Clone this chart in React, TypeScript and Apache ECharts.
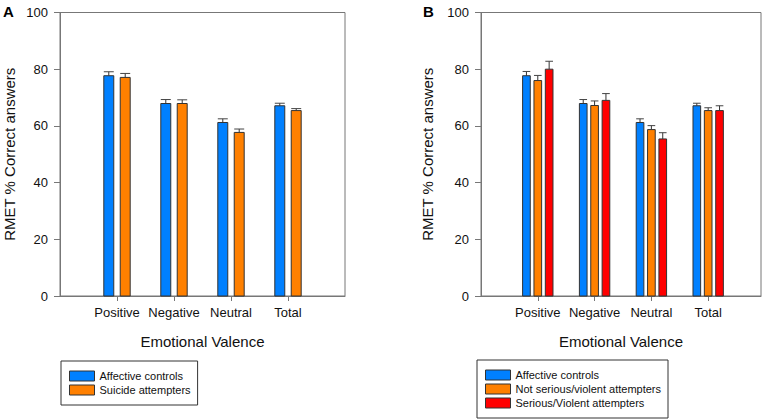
import React, { useEffect, useRef } from "react";
import * as echarts from "echarts";

const categories = ["Positive", "Negative", "Neutral", "Total"];
const yTicks = [0, 20, 40, 60, 80, 100];

// Panel A
const controlsA = [77.7, 67.9, 61.2, 67.1];
const controlsAErr = [1.4, 1.4, 1.3, 0.9];
const attemptersA = [77.1, 67.9, 57.7, 65.4];
const attemptersAErr = [1.4, 1.3, 1.2, 0.7];

// Panel B
const controlsB = [77.7, 67.9, 61.2, 67.1];
const controlsBErr = [1.5, 1.4, 1.3, 0.9];
const notSeriousB = [76.0, 67.2, 58.7, 65.4];
const notSeriousBErr = [1.8, 1.6, 1.4, 1.0];
const seriousB = [80.0, 69.0, 55.4, 65.4];
const seriousBErr = [2.8, 2.4, 2.2, 1.7];

const BLUE = "#0080ff";
const ORANGE = "#ff8000";
const RED = "#ff0000";
const FONT = "'Liberation Sans', Arial, sans-serif";

function barSeries(
  name: string,
  values: number[],
  errs: number[],
  color: string,
  offset: number,
  width: number,
  axisIndex: number
) {
  return {
    type: "custom",
    name,
    xAxisIndex: axisIndex,
    yAxisIndex: axisIndex,
    itemStyle: { color },
    encode: { x: 0, y: 1 },
    data: values.map((v, i) => [i + 1, v, errs[i]]),
    renderItem: (params: any, api: any) => {
      const x = api.value(0) + offset;
      const v = api.value(1);
      const e = api.value(2);
      const base = api.coord([x, 0]);
      const top = api.coord([x, v]);
      const et = api.coord([x, v + e]);
      const w = api.size([width, 0])[0];
      const cx = base[0];
      return {
        type: "group",
        children: [
          {
            type: "line",
            shape: { x1: cx, y1: top[1], x2: cx, y2: et[1] },
            style: { stroke: "#333", lineWidth: 1 },
          },
          {
            type: "line",
            shape: { x1: cx - w / 2, y1: et[1], x2: cx + w / 2, y2: et[1] },
            style: { stroke: "#444", lineWidth: 1 },
          },
          {
            type: "rect",
            shape: { x: cx - w / 2, y: top[1], width: w, height: base[1] - top[1] },
            style: { fill: color, stroke: "#333", lineWidth: 1 },
          },
        ],
      };
    },
  };
}

function xAxisDef(gridIndex: number, max: number) {
  return {
    type: "value",
    gridIndex,
    min: 0,
    max,
    name: "Emotional Valence",
    nameLocation: "middle",
    nameGap: 38,
    nameTextStyle: { fontSize: 15, color: "#111", fontFamily: FONT },
    splitLine: { show: false },
    axisLine: { show: true, lineStyle: { color: "#777", width: 1 } },
    axisTick: {
      show: true,
      customValues: [1, 2, 3, 4],
      length: 5,
      lineStyle: { color: "#777" },
    },
    axisLabel: {
      customValues: [1, 2, 3, 4],
      formatter: (v: number) => categories[Math.round(v) - 1] ?? "",
      fontSize: 13,
      color: "#111",
      fontFamily: FONT,
      margin: 10,
    },
  };
}

function yAxisDef(gridIndex: number, nameGap: number) {
  return {
    type: "value",
    gridIndex,
    min: yTicks[0],
    max: yTicks[yTicks.length - 1],
    interval: 20,
    name: "RMET % Correct answers",
    nameLocation: "middle",
    nameGap,
    nameTextStyle: { fontSize: 15, color: "#111", fontFamily: FONT },
    splitLine: { show: false },
    axisLine: { show: true, lineStyle: { color: "#777", width: 1 } },
    axisTick: { show: true, length: 6, lineStyle: { color: "#777" } },
    axisLabel: { fontSize: 13, color: "#111", fontFamily: FONT, margin: 12 },
  };
}

function legendDef(left: number, top: number, data: string[]) {
  return {
    orient: "vertical",
    left,
    top,
    data,
    icon: "rect",
    itemWidth: 25,
    itemHeight: 10,
    itemGap: 2,
    padding: [9, 7, 9, 8],
    borderColor: "#333",
    borderWidth: 1,
    selectedMode: false,
    itemStyle: { borderColor: "#333", borderWidth: 1 },
    textStyle: { fontSize: 11, lineHeight: 12, color: "#111", fontFamily: FONT },
  };
}

export default function App() {
  const ref = useRef<HTMLDivElement>(null);
  useEffect(() => {
    document.body.style.margin = "0";
    if (!ref.current) return;
    const chart = echarts.init(ref.current, null, { renderer: "svg" });
    chart.setOption({
      animation: false,
      backgroundColor: "#fff",
      textStyle: { fontFamily: FONT },
      grid: [
        { left: 60, right: 422, top: 12.5, bottom: 123, show: true, borderColor: "#777", borderWidth: 1, backgroundColor: "transparent" },
        { left: 481, right: 6, top: 12.5, bottom: 123, show: true, borderColor: "#777", borderWidth: 1, backgroundColor: "transparent" },
      ],
      xAxis: [xAxisDef(0, 5), xAxisDef(1, 4.93)],
      yAxis: [yAxisDef(0, 43), yAxisDef(1, 46)],
      legend: [
        legendDef(61, 361, ["Affective controls", "Suicide attempters"]),
        legendDef(477, 360, [
          "Affective controls",
          "Not serious/violent attempters",
          "Serious/Violent attempters",
        ]),
      ],
      graphic: [
        { type: "text", left: 3, top: 4, style: { text: "A", fontSize: 15, fontWeight: "bold", fill: "#000", fontFamily: FONT } },
        { type: "text", left: 423, top: 4, style: { text: "B", fontSize: 15, fontWeight: "bold", fill: "#000", fontFamily: FONT } },
      ],
      series: [
        barSeries("Affective controls", controlsA, controlsAErr, BLUE, -0.144, 0.175, 0),
        barSeries("Suicide attempters", attemptersA, attemptersAErr, ORANGE, 0.144, 0.175, 0),
        barSeries("Affective controls", controlsB, controlsBErr, BLUE, -0.2, 0.135, 1),
        barSeries("Not serious/violent attempters", notSeriousB, notSeriousBErr, ORANGE, 0, 0.135, 1),
        barSeries("Serious/Violent attempters", seriousB, seriousBErr, RED, 0.2, 0.135, 1),
      ],
    });
    return () => chart.dispose();
  }, []);
  return <div ref={ref} style={{ width: 767, height: 419 }} />;
}
